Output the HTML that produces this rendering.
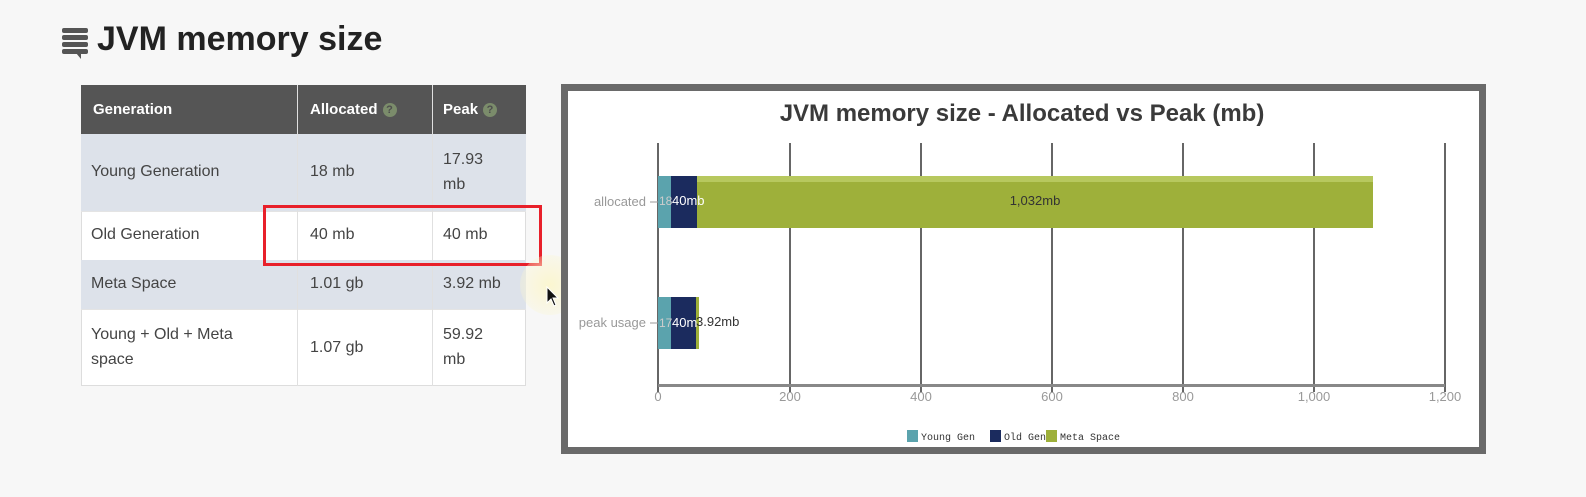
<!DOCTYPE html>
<html><head><meta charset="utf-8"><style>
*{margin:0;padding:0;box-sizing:border-box}
body{width:1586px;height:497px;background:#f7f7f7;position:relative;overflow:hidden;font-family:"Liberation Sans",Arial,sans-serif}
.a{position:absolute}
.cell{position:absolute;font-size:16px;color:#444;display:flex;align-items:center;line-height:1.55}
.hd{color:#fff;font-weight:bold;font-size:15px}
.q{display:inline-block;width:14px;height:14px;border-radius:7px;background:#7b8c6b;color:#4e4e4e;font-size:11px;text-align:center;line-height:14px;margin-left:5px;font-weight:bold}
</style></head><body>
<!-- title -->
<div class="a" style="left:62px;top:28px;width:26px;height:28px">
 <div class="a" style="left:0;top:0;width:26px;height:5px;background:#555;border-radius:2px"></div>
 <div class="a" style="left:0;top:7px;width:26px;height:5px;background:#555;border-radius:2px"></div>
 <div class="a" style="left:0;top:14px;width:26px;height:5px;background:#555;border-radius:2px"></div>
 <div class="a" style="left:0;top:21px;width:26px;height:5px;background:#555;border-radius:2px"></div>
 <div class="a" style="left:14px;top:25px;width:0;height:0;border-left:5px solid transparent;border-top:6px solid #555"></div>
</div>
<div class="a" style="left:97px;top:20px;font-size:34px;font-weight:bold;color:#222">JVM memory size</div>

<!-- table -->
<div class="a" style="left:81px;top:85px;width:445px;height:301px;border:1px solid #ddd;background:#fff"></div>
<div class="a" style="left:81px;top:85px;width:445px;height:49px;background:#555"></div>
<div class="a" style="left:81px;top:134px;width:445px;height:77px;background:#dde2ea"></div>
<div class="a" style="left:81px;top:260px;width:445px;height:49px;background:#dde2ea"></div>
<div class="a" style="left:81px;top:211px;width:445px;height:1px;background:#e4e4e4"></div>
<div class="a" style="left:81px;top:309px;width:445px;height:1px;background:#e4e4e4"></div>
<div class="a" style="left:297px;top:85px;width:1px;height:301px;background:#e0e0e0"></div>
<div class="a" style="left:432px;top:85px;width:1px;height:301px;background:#e0e0e0"></div>

<div class="cell hd" style="left:93px;top:85px;height:49px">Generation</div>
<div class="cell hd" style="left:310px;top:85px;height:49px">Allocated<span class="q">?</span></div>
<div class="cell hd" style="left:443px;top:85px;height:49px">Peak<span class="q">?</span></div>

<div class="cell" style="left:91px;top:134px;height:77px">Young Generation</div>
<div class="cell" style="left:310px;top:134px;height:77px">18 mb</div>
<div class="cell" style="left:443px;top:134px;height:77px">17.93<br>mb</div>

<div class="cell" style="left:91px;top:211px;height:49px">Old Generation</div>
<div class="cell" style="left:310px;top:211px;height:49px">40 mb</div>
<div class="cell" style="left:443px;top:211px;height:49px">40 mb</div>

<div class="cell" style="left:91px;top:260px;height:49px">Meta Space</div>
<div class="cell" style="left:310px;top:260px;height:49px">1.01 gb</div>
<div class="cell" style="left:443px;top:260px;height:49px">3.92 mb</div>

<div class="cell" style="left:91px;top:310px;height:76px">Young + Old + Meta<br>space</div>
<div class="cell" style="left:310px;top:310px;height:76px">1.07 gb</div>
<div class="cell" style="left:443px;top:310px;height:76px">59.92<br>mb</div>

<div class="a" style="left:263px;top:205px;width:279px;height:61px;border:3px solid #e8202a"></div>

<!-- cursor glow -->
<div class="a" style="left:520px;top:255px;width:60px;height:60px;border-radius:30px;background:radial-gradient(#fbf6d0,rgba(250,245,200,0))"></div>
<svg class="a" style="left:546px;top:286px" width="14" height="22"><path d="M1 1 L1 17 L5 13 L8 20 L10 19 L7 12 L12 12 Z" fill="#111" stroke="#fff" stroke-width="1"/></svg>

<!-- chart -->
<div class="a" style="left:561px;top:84px;width:925px;height:370px;border:7px solid #6a6a6a;background:#fff"></div>
<svg class="a" style="left:0;top:0" width="1586" height="497">
 <text x="1022" y="121" text-anchor="middle" font-family="Liberation Sans, sans-serif" font-weight="bold" font-size="24" fill="#3a3a3a">JVM memory size - Allocated vs Peak (mb)</text>
 <g stroke="#666" stroke-width="2">
  <line x1="658" y1="143" x2="658" y2="392"/>
  <line x1="790" y1="143" x2="790" y2="392"/>
  <line x1="921" y1="143" x2="921" y2="392"/>
  <line x1="1052" y1="143" x2="1052" y2="392"/>
  <line x1="1183" y1="143" x2="1183" y2="392"/>
  <line x1="1314" y1="143" x2="1314" y2="392"/>
  <line x1="1445" y1="143" x2="1445" y2="392"/>
 </g>
 <rect x="658" y="384" width="787" height="3" fill="#888"/>
 <line x1="650" y1="202" x2="658" y2="202" stroke="#999"/>
 <line x1="650" y1="323" x2="658" y2="323" stroke="#999"/>
 <rect x="658" y="176" width="13" height="52" fill="#5ba3ad"/>
 <rect x="671" y="176" width="26" height="52" fill="#1b2b5e"/>
 <rect x="697" y="176" width="676" height="52" fill="#9eb03a"/>
 <rect x="697" y="176" width="676" height="6" fill="#b7c85e"/>
 <rect x="658" y="297" width="13" height="52" fill="#5ba3ad"/>
 <rect x="671" y="297" width="25" height="52" fill="#1b2b5e"/>
 <rect x="696" y="297" width="3" height="52" fill="#9eb03a"/>
 <g font-family="Liberation Sans, sans-serif" font-size="13">
  <text x="646" y="206" text-anchor="end" fill="#999">allocated</text>
  <text x="646" y="327" text-anchor="end" fill="#999">peak usage</text>
  <text x="659" y="205" fill="#ccc" font-size="12">18</text>
  <text x="672" y="205" fill="#fff">40mb</text>
  <text x="1035" y="205" text-anchor="middle" fill="#333">1,032mb</text>
  <text x="659" y="327" fill="#ccc" font-size="12">17</text>
  <text x="672" y="327" fill="#fff">40m</text>
  <text x="696" y="326" fill="#333">3.92mb</text>
 </g>
 <g font-family="Liberation Sans, sans-serif" font-size="13" fill="#999" text-anchor="middle">
  <text x="658" y="401">0</text><text x="790" y="401">200</text><text x="921" y="401">400</text>
  <text x="1052" y="401">600</text><text x="1183" y="401">800</text><text x="1314" y="401">1,000</text>
  <text x="1445" y="401">1,200</text>
 </g>
 <rect x="907" y="430" width="11" height="12" fill="#5ba3ad"/>
 <rect x="990" y="430" width="11" height="12" fill="#1b2b5e"/>
 <rect x="1046" y="430" width="11" height="12" fill="#9eb03a"/>
 <g font-family="Liberation Mono, monospace" font-size="10" fill="#333">
  <text x="921" y="440">Young Gen</text><text x="1004" y="440">Old Gen</text><text x="1060" y="440">Meta Space</text>
 </g>
</svg>
</body></html>
